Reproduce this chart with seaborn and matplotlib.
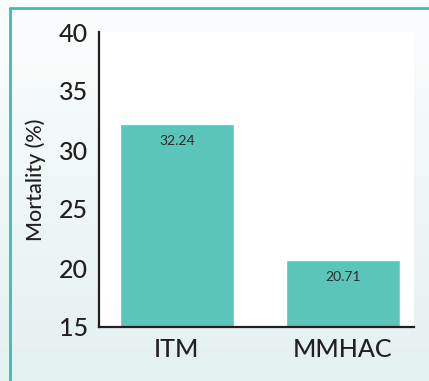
import numpy as np
import pandas as pd
import matplotlib
matplotlib.use("Agg")
import matplotlib.pyplot as plt
from matplotlib.lines import Line2D
import seaborn as sns

groups = ["ITM", "MMHAC"]
mortality = [32.24, 20.71]
yticks = [15, 20, 25, 30, 35, 40]

df = pd.DataFrame({"group": groups, "mortality": mortality})

sns.set_style("white")
plt.rcParams["font.family"] = ["Lato", "DejaVu Sans"]

fig = plt.figure(figsize=(4.29, 3.81), dpi=100)

# soft vertical gradient behind the panel
bg = fig.add_axes([0, 0, 1, 1], zorder=-10)
grad = np.linspace(0, 1, 256).reshape(-1, 1)
top = np.array([0.985, 0.993, 0.993])
bottom = np.array([0.890, 0.945, 0.940])
img = top + (bottom - top) * grad[..., None]
bg.imshow(img, aspect="auto", extent=[0, 1, 0, 1], origin="upper")
bg.set_axis_off()

# teal frame along the top and left
frame_color = "#3fbcb0"
fig.add_artist(Line2D([10 / 429, 10 / 429], [0, 1 - 8 / 381], transform=fig.transFigure,
                      color=frame_color, lw=2))
fig.add_artist(Line2D([10 / 429, 1], [1 - 8 / 381, 1 - 8 / 381], transform=fig.transFigure,
                      color=frame_color, lw=2))

ax = fig.add_axes([99 / 429, 1 - 327 / 381, (414 - 99) / 429, (327 - 32) / 381])
ax.set_facecolor("white")
sns.barplot(data=df, x="group", y="mortality", color="#5bc5bb", saturation=1,
            width=0.69, ax=ax)

ax.set_ylim(15, 40)
ax.set_xlim(-0.47, 1.43)
ax.set_yticks(yticks)
ax.set_yticklabels([str(t) for t in yticks], fontsize=18, color="#231f20",
                   fontweight="medium")
ax.tick_params(axis="x", labelsize=18, colors="#231f20", length=0, pad=8)
for lbl in ax.get_xticklabels():
    lbl.set_fontweight("medium")
ax.tick_params(axis="y", length=0, pad=8)
ax.set_xlabel("")
ax.set_ylabel("Mortality (%)", fontsize=15.5, color="#231f20", labelpad=9,
              fontweight="medium")

for s in ["top", "right"]:
    ax.spines[s].set_visible(False)
for s in ["left", "bottom"]:
    ax.spines[s].set_color("#231f20")
    ax.spines[s].set_linewidth(1.6)

for i, v in enumerate(mortality):
    ax.annotate(f"{v:.2f}", xy=(i, v), xytext=(0, -8), textcoords="offset points",
                ha="center", va="top", fontsize=10, color="#2b2b2b")

fig.savefig("out.png", dpi=100)
